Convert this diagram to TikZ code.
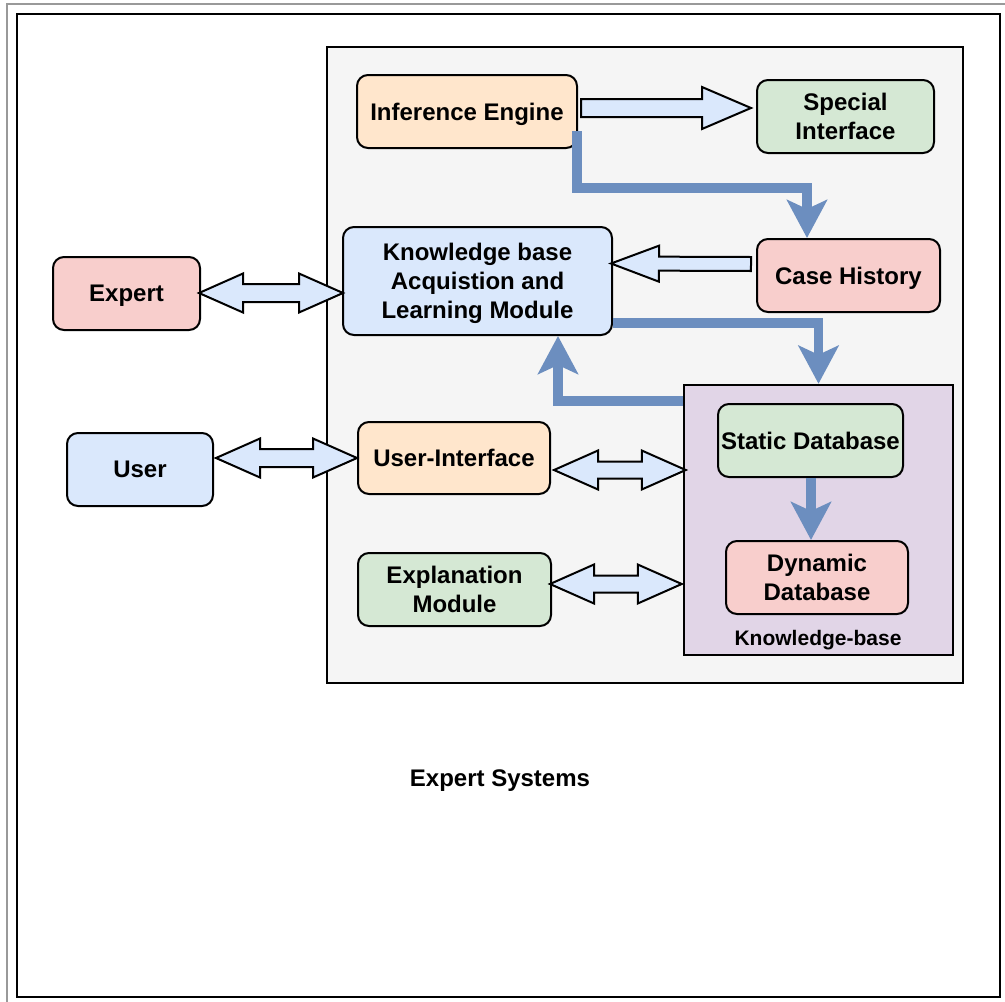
\documentclass[tikz,border=0pt]{standalone}
\usepackage{fontspec}
\setmainfont{Liberation Sans}
\usetikzlibrary{calc,arrows.meta}

\definecolor{orangefill}{HTML}{FFE6CC}
\definecolor{greenfill}{HTML}{D5E8D4}
\definecolor{redfill}{HTML}{F8CECC}
\definecolor{bluefill}{HTML}{DAE8FC}
\definecolor{purplefill}{HTML}{E1D5E7}
\definecolor{panelfill}{HTML}{F5F5F5}
\definecolor{flowblue}{HTML}{6C8EBF}

\tikzset{
  box/.style={draw, line width=2pt, rounded corners=11pt, align=center,
    inner sep=0pt, text depth=-4pt, font=\bfseries\fontsize{24}{29}\selectfont},
  caption/.style={inner sep=0pt, text depth=-2pt},
  flow/.style={draw=flowblue, line width=9.5pt,
    -{Stealth[length=38pt,width=40pt,inset=9pt]}},
  blockarrow/.style={draw, line width=2pt, fill=bluefill, line join=miter},
}

% one-headed block arrow: from, to, half shaft, half head, head length
\newcommand\singleblock[5]{%
  \coordinate (sb-h) at ($(#2)!#5!(#1)$);
  \path[blockarrow]
    ($(#1)!#3!90:(#2)$) -- ($(sb-h)!#3!90:(#2)$) -- ($(sb-h)!#4!90:(#2)$)
    -- (#2)
    -- ($(sb-h)!#4!-90:(#2)$) -- ($(sb-h)!#3!-90:(#2)$) -- ($(#1)!#3!-90:(#2)$)
    -- cycle;}

% two-headed block arrow: end, end, half shaft, half head, head length
\newcommand\doubleblock[5]{%
  \coordinate (db-a) at ($(#1)!#5!(#2)$);
  \coordinate (db-b) at ($(#2)!#5!(#1)$);
  \path[blockarrow]
    (#1) -- ($(db-a)!#4!90:(#2)$) -- ($(db-a)!#3!90:(#2)$)
    -- ($(db-b)!#3!90:(#2)$) -- ($(db-b)!#4!90:(#2)$)
    -- (#2)
    -- ($(db-b)!#4!-90:(#2)$) -- ($(db-b)!#3!-90:(#2)$)
    -- ($(db-a)!#3!-90:(#2)$) -- ($(db-a)!#4!-90:(#2)$)
    -- cycle;}

\begin{document}
\begin{tikzpicture}[x=1pt,y=-1pt]
\useasboundingbox (0,0) rectangle (1005,1002);

% page frames
\draw[line width=2pt, draw=gray!80] (7,1010) -- (7,4) -- (1010,4);
\draw[line width=2.6pt] (17,14) rectangle (1000,997);

% system panel and knowledge-base container
\draw[line width=2.5pt, fill=panelfill] (327,47) rectangle (963,683);
\node[draw, line width=2.5pt, fill=purplefill, minimum width=269pt,
  minimum height=270pt, inner sep=0pt] (kbc) at (818.5,520) {};

% modules
\node[box, fill=orangefill, minimum width=220pt, minimum height=73pt] (ie) at (467,111.5) {Inference Engine};
\node[box, fill=greenfill, minimum width=177pt, minimum height=73pt] (si) at (845.5,116.5) {Special\\Interface};
\node[box, fill=redfill, minimum width=183pt, minimum height=73pt] (ch) at (848.5,275.5) {Case History};
\node[box, fill=bluefill, minimum width=269pt, minimum height=108pt] (kb) at (477.5,281) {Knowledge base\\Acquistion and\\Learning Module};
\node[box, fill=redfill, minimum width=147pt, minimum height=73pt] (ex) at (126.5,293.5) {Expert};
\node[box, fill=bluefill, minimum width=146pt, minimum height=73pt] (us) at (140,469.5) {User};
\node[box, fill=orangefill, minimum width=192pt, minimum height=72pt] (ui) at (454,458) {User-Interface};
\node[box, fill=greenfill, minimum width=193pt, minimum height=73pt] (em) at (454.5,589.5) {Explanation\\Module};
\node[box, fill=greenfill, minimum width=185pt, minimum height=73pt] (sd) at (810.5,440.5) {Static Database};
\node[box, fill=redfill, minimum width=182pt, minimum height=73pt] (dd) at (817,577.5) {Dynamic\\Database};

\node[caption, font=\bfseries\fontsize{21}{25}\selectfont] (kbl) at (818,638) {Knowledge-base};
\node[caption, font=\bfseries\fontsize{24}{29}\selectfont] (title) at (500,778) {Expert Systems};

% control and data flow
\coordinate (ie-out) at ($(ie.south east)+(-1,-18)$);
\coordinate (ie-turn) at ($(ie-out)+(0,57)$);
\coordinate (ch-in) at ($(ch.north west)+(51,0)$);
\draw[flow] (ie-out) -- (ie-turn) -| (ch-in);

\coordinate (kb-out) at ($(kb.south east)+(0,-13)$);
\draw[flow] (kb-out) -| (kbc.north);

\coordinate (kbc-out) at ($(kbc.north west)+(0,17)$);
\coordinate (kb-in) at ($(kb.south west)+(216,0)$);
\draw[flow] (kbc-out) -| (kb-in);

\coordinate (sd-out) at ($(sd.south)+(0.5,0)$);
\draw[flow] (sd-out) -- (sd-out |- dd.north);

% block arrows
\coordinate (a1) at ($(ie.east)+(3,-3.5)$);
\coordinate (a2) at ($(si.west)+(-5,-8.5)$);
\singleblock{a1}{a2}{9pt}{21pt}{49pt}

\coordinate (b1) at ($(ch.west)+(-5,-11.5)$);
\coordinate (b2) at ($(kb.east)+(-2,-17.5)$);
\singleblock{b1}{b2}{7pt}{18pt}{48pt}

\coordinate (c1) at ($(ex.east)+(-2,-0.5)$);
\coordinate (c2) at ($(kb.west)+(1,12)$);
\doubleblock{c1}{c2}{9pt}{19.5pt}{44pt}

\coordinate (d1) at ($(us.east)+(2,-11.5)$);
\coordinate (d2) at ($(ui.west)+(0,0)$);
\doubleblock{d1}{d2}{9pt}{19.5pt}{44pt}

\coordinate (e1) at ($(ui.east)+(3,12)$);
\coordinate (e2) at ($(kbc.west)+(3,-50)$);
\doubleblock{e1}{e2}{8.5pt}{19.5pt}{44pt}

\coordinate (f1) at ($(em.east)+(-2,-5.5)$);
\coordinate (f2) at ($(kbc.west)+(-1,64)$);
\doubleblock{f1}{f2}{8.5pt}{19.5pt}{44pt}
\end{tikzpicture}
\end{document}
